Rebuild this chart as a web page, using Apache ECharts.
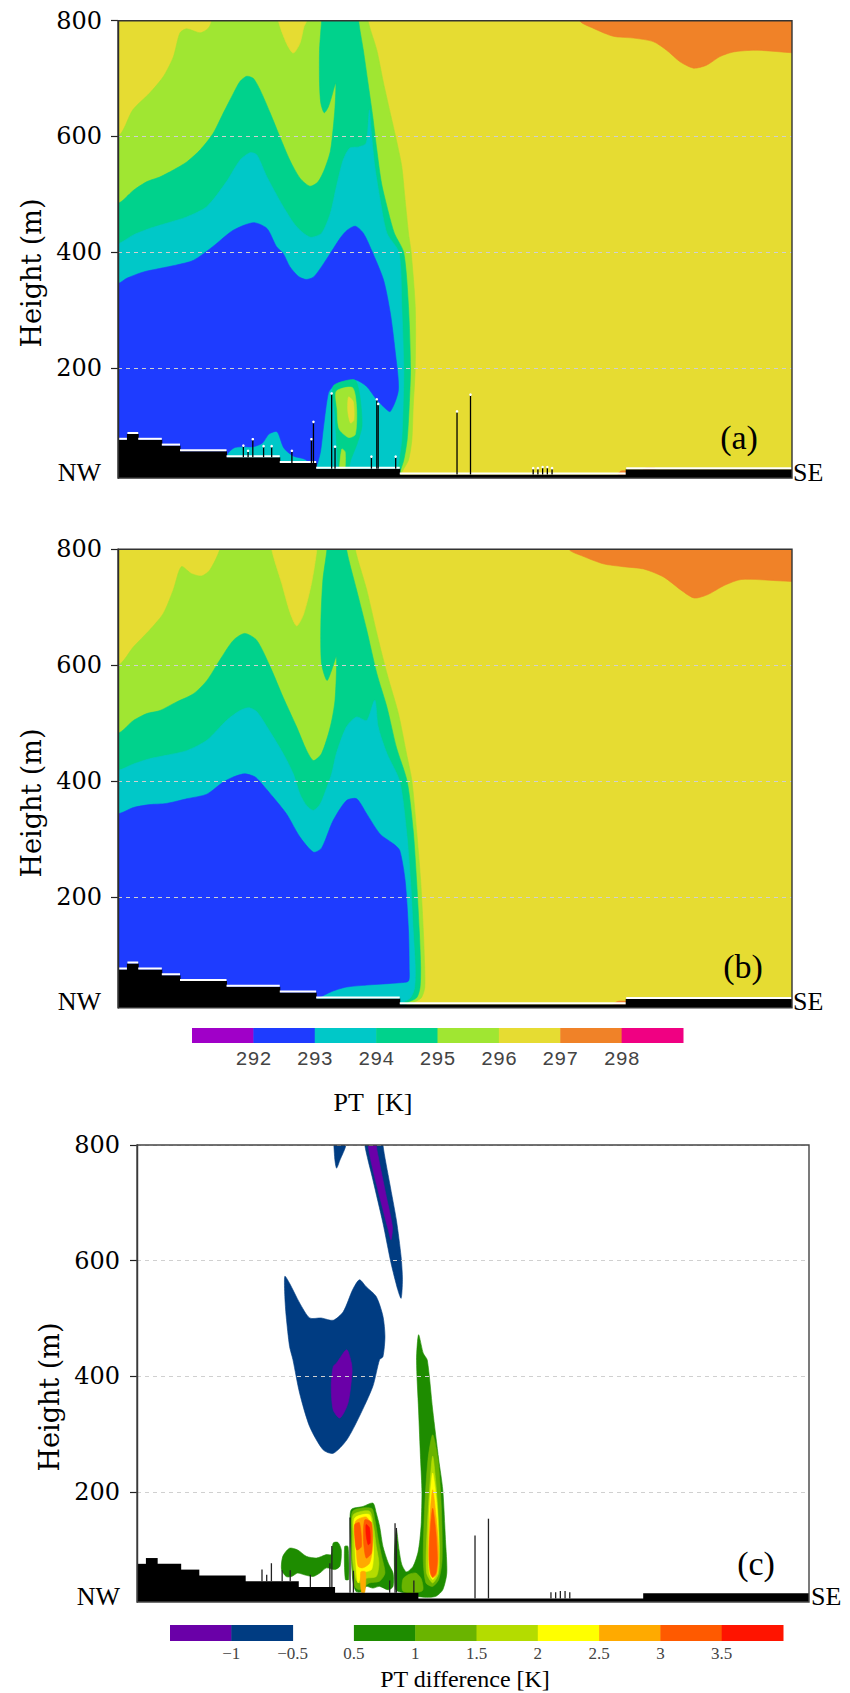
<!DOCTYPE html>
<html><head><meta charset="utf-8">
<script src="https://cdn.jsdelivr.net/npm/echarts@6/dist/echarts.min.js"></script>
<style>html,body{margin:0;padding:0;background:#fff}#main{width:850px;height:1693px}</style>
</head><body><div id="main"></div>
<script>
// ================= DATA =================
const heightTicks = [200, 400, 600, 800];
const ptLevels = [292, 293, 294, 295, 296, 297, 298];
const diffTickLabels = ['\u22121', '\u22120.5', '0.5', '1', '1.5', '2', '2.5', '3', '3.5'];

// terrain steps: x breaks (% of section) and step-top heights (m)
const terrX = [0, 1.4, 3.0, 6.5, 9.2, 16.1, 24.0, 29.4, 41.8, 75.4, 100];
const terrH = [76, 86, 76, 66, 56, 46, 36, 26, 16, 25];
// thin vertical obstacles: [x, top height]
const spikes = [[18.6,66],[19.3,57],[20.0,77],[21.6,65],[22.8,65],[25.8,57],[28.7,77],[29.0,107],[31.7,156],[32.2,64],[37.6,47],[38.4,146],[38.6,138],[41.2,47],[50.3,125],[52.3,154],[61.6,27],[62.3,27],[63.0,29],[63.7,29],[64.4,27]];

const fullDomain = [[-5,0],[105,0],[105,850],[-5,850]];

// ---- panel (a): PT contour regions [x, height] ----
const aOrange = [[68.5,830],[68.5,800],[70.5,787],[73.5,773],[76.5,770],[79.4,764],[81.4,749],[83.4,729],[85.4,718],[87.3,723],[89.3,738],[91.3,746],[94.3,749],[105,749],[105,830]];
const aOrangeBit1 = [[74.2,16],[74.6,22],[75.4,22],[75.4,16]];
const aOrangeBit2 = [[77.9,25],[78.4,27.5],[79.6,27.5],[79.8,25]];
const aLG = [[-5,600],[0,600],[2.2,646],[4.7,675],[6.7,703],[8.2,737],[9.2,779],[10.2,786],[12.2,779],[13.4,787],[13.9,800],[14,830],[37.1,830],[37.1,800],[38.4,749],[39.4,692],[40.4,640],[41.3,594],[42.1,548],[42.6,490],[43.1,433],[43.5,399],[44.1,306],[44.1,200],[43.8,133],[43.6,76],[43.1,41],[42.3,24],[41.8,12],[41.8,0],[-5,0]];
const aNotch = [[23.8,830],[23.8,800],[25.0,761],[26.0,744],[27.0,761],[27.6,790],[28.0,800],[28.0,830]];
const aGreen = [[-5,484],[0,484.5],[2.3,507],[4.3,522],[6.2,530],[8.2,542],[10.2,556],[12.2,577],[14.1,605],[15.6,640],[17.1,674],[18.1,695],[19.1,704],[20.1,700],[21.1,680],[22.6,640],[24.0,600],[25.5,559],[27.0,528],[28.5,514],[29.7,522],[30.7,545],[31.5,574],[31.9,611],[32.2,651],[32.3,692],[31.7,669],[31.2,651],[30.6,641],[30.1,657],[29.9,692],[29.9,749],[30.1,784],[30.2,800],[30.2,830],[35.7,830],[35.7,800],[36.4,749],[37.1,692],[37.8,634],[38.4,577],[39.1,519],[40.1,470],[41.0,433],[42.4,399],[43.1,306],[43.4,200],[43.2,133],[42.9,76],[42.4,41],[41.8,18],[41.8,0],[-5,0]];
const aCyan = [[-5,415],[0,415],[2.3,430],[4.7,441],[7.2,450],[10.2,461],[13.2,479],[16.1,522],[18.1,559],[19.6,572],[20.6,568],[22.1,530],[24.5,479],[26.5,444],[28.5,426],[30.2,433],[31.5,467],[32.4,513],[33.4,559],[34.4,580],[35.7,582],[36.8,588],[37.1,617],[37.3,646],[37.6,605],[38.1,548],[38.9,490],[39.9,433],[41.7,399],[42.1,306],[42.4,200],[42.3,133],[42.1,76],[41.7,41],[41.3,18],[41.3,0],[-5,0]];
const aBlue = [[-5,346],[0,346],[1.3,355],[3.8,366],[6.2,372],[8.7,378],[11.2,386],[14.1,410],[17.1,438],[20.1,451],[22.1,441],[23.5,410],[24.5,398],[25.5,375],[26.8,358],[27.9,353],[29.0,357],[30.2,375],[31.5,398],[33.0,425],[34.0,438],[35.2,445],[36.4,433],[37.6,404],[39.4,352],[40.4,295],[41.1,231],[41.6,162],[40.4,125],[39.4,133],[38.4,145],[36.9,168],[35.4,179],[33.9,176],[31.9,168],[31.2,156],[30.5,99],[30.0,53],[29.2,26],[27.8,42],[26,48],[24.6,62],[23.6,90],[22.4,86],[21.4,70],[20,64],[18.4,64],[17.2,62],[16.2,50],[16.1,0],[-5,0]];
const aBlobGreen = [[31.9,168],[33.4,177],[35.2,179],[35.9,150],[36.2,100],[35.5,70],[34.5,40],[34.0,18],[32.9,18],[32.5,60],[32.2,120]];
const aBlobLG = [[32.4,160],[34.8,166],[35.4,130],[35.2,85],[34.2,80],[32.8,95],[32.5,130]];
const aBlobLG2 = [[32.9,20],[33.2,60],[33.7,55],[33.6,20]];
const aBlobYellow = [[34.2,150],[34.9,142],[35.0,110],[34.5,105],[34.1,125]];

// ---- panel (b) ----
const bOrange = [[66.9,830],[66.9,800],[69,788],[72,775],[75,770],[78,766],[81,752],[83.5,730],[85.5,716],[87.5,722],[90,738],[92.5,748],[105,750],[105,830]];
const bOrangeBit = [[73.5,16],[74.2,21],[75.4,21],[75.4,16]];
const bLG = [[-5,600],[0,600],[2.3,632],[4.7,661],[6.7,689],[8.2,730],[9.4,770],[10.9,758],[12.4,754],[13.6,764],[15.1,800],[15.1,830],[35.2,830],[35.2,800],[36.9,730],[38.4,655],[39.9,586],[41.6,517],[42.8,448],[43.6,401],[44.3,315],[44.9,229],[45.3,142],[45.5,79],[45.5,44],[45.0,27],[43.8,17],[43.8,0],[-5,0]];
const bNotch = [[22.8,830],[22.8,800],[24.3,741],[25.5,692],[26.5,668],[27.5,687],[28.7,741],[29.5,800],[29.5,830]];
const bGreen = [[-5,483],[0,483],[2.3,505],[4.3,517],[6.2,522],[8.7,537],[11.2,551],[13.2,574],[15.1,609],[17.1,643],[18.8,655],[20.6,643],[22.6,597],[24.5,545],[26.5,494],[28,453],[29,436],[30.2,448],[31.5,494],[32.2,540],[32.4,615],[31.7,592],[31.0,574],[30.2,603],[30.1,672],[30.4,747],[31,800],[31,830],[33.9,830],[33.9,800],[35.4,730],[36.9,661],[38.4,586],[39.9,528],[41.3,459],[42.9,400],[43.8,315],[44.3,229],[44.7,142],[44.9,79],[44.8,44],[44.3,27],[42.8,17],[42.8,0],[-5,0]];
const bCyan = [[-5,419],[0,419],[2.3,430],[4.7,439],[7.2,445],[10.2,453],[13.2,471],[16.1,505],[18.1,522],[19.4,527],[20.6,520],[22.1,494],[24.5,448],[26,413],[27,378],[28,358],[29,350],[30,361],[31,390],[31.7,413],[32.4,448],[33.9,494],[35.4,511],[36.9,505],[38.1,540],[38.6,494],[39.9,448],[41.8,400],[42.8,315],[43.4,229],[43.8,142],[44.1,79],[44.0,44],[43.4,27],[42.1,17],[42.1,0],[-5,0]];
const bBlue = [[-5,344],[0,344],[2.3,355],[4.7,360],[7.2,362],[10.2,370],[13.2,378],[15.5,398],[17.2,408],[18.8,413],[20.3,408],[21.1,399],[23,373],[25,344],[27,304],[29,278],[30.2,285],[31.9,332],[33.9,367],[35.4,370],[36.9,344],[38.9,309],[40.9,292],[41.8,281],[42.6,229],[43.1,142],[43.2,79],[43.1,56],[41.8,53],[36.9,49],[33.9,45.6],[31.9,38.8],[30,28.4],[29.4,26],[29.4,0],[-5,0]];

// ---- panel (c): PT difference regions ----
const cNavy1 = [[29.4,830],[29.4,780],[29.7,760],[30.2,774],[31.1,800],[31.1,830]];
const cNavy2 = [[33.9,830],[33.9,800],[35.1,740],[36.6,665],[37.8,596],[38.8,550],[39.3,535],[39.5,567],[39.3,607],[38.6,670],[37.6,734],[36.6,800],[36.6,830]];
const cPurple2 = [[34.4,830],[34.4,800],[34.9,768],[36.1,711],[37.4,653],[37.8,636],[38,659],[37.1,711],[36.1,768],[35.6,800],[35.6,830]];
const cNavy3 = [[22,573],[22.7,561],[24.2,527],[25.7,501],[27.4,501],[29.2,497],[30.7,512],[32.1,550],[33.1,567],[34.1,555],[35.6,538],[36.6,504],[36.9,469],[36.6,434],[36.1,429],[35.1,383],[33.1,331],[31.2,290],[29.2,267],[27.7,273],[25.7,313],[24.2,371],[23.2,429],[22.7,452],[22.2,504],[22,538]];
const cPurple3 = [[31.2,446],[31.9,423],[32,406],[31.4,354],[30.2,328],[29.2,342],[28.9,383],[29.2,417],[29.7,423]];
const cLeftGreen = [[21.7,89],[22.7,103],[23.9,100],[25.2,89],[26.7,86],[28.2,92],[28.9,92],[29.2,112],[29.9,113],[30.4,100],[30.2,72],[29.4,66],[28.2,69],[27.2,60],[26.2,54],[24.9,57],[23.9,60],[23,54],[22.2,54],[21.5,66]];
const cStreak = [[30.9,106],[31.4,106],[31.5,49],[31,49]];
const cBlob1 = [[31.9,170],[33.6,175],[35.1,181],[35.6,164],[36.1,141],[36.6,106],[37.4,77],[38.1,60],[38.1,37],[37.4,31],[36.1,37],[35.1,34],[34.1,37],[33.6,28],[32.6,28],[32.1,49],[31.9,89],[31.7,147]];
const cBlob2 = [[32.1,167],[34.9,172],[35.4,152],[35.9,118],[36.4,89],[36.9,60],[36.1,46],[34.6,43],[33.9,37],[33.1,31],[32.4,37],[32,72],[31.9,118]];
const cBlob3 = [[32.2,161],[34.6,167],[35.2,141],[35.6,106],[36,77],[35.6,54],[34.1,51],[33.1,43],[32.6,49],[32.1,83],[32.1,129]];
const cBlob4 = [[32.4,155],[34.6,161],[35,129],[35.2,95],[34.9,66],[33.6,60],[32.9,43],[32.6,72],[32.4,118]];
const cBlob5 = [[32.5,149],[34.1,157],[34.9,141],[35,100],[34.6,77],[33.6,69],[32.9,72],[32.6,106]];
const cBlobCol = [[33.3,62],[34.0,62],[33.9,27],[33.4,27]];
const cBlob6a = [[32.4,144],[33.1,147],[33.4,106],[32.7,100],[32.4,123]];
const cBlob6b = [[33.9,152],[34.9,147],[34.9,95],[34.1,86],[33.7,118]];
const cBlob7 = [[34.1,144],[34.6,138],[34.7,112],[34.4,109],[34.1,126]];
const cPlume1 = [[41.9,472],[42.6,440],[43.2,428],[44.0,342],[44.9,256],[45.5,204],[45.9,118],[46.1,60],[45.5,31],[44.5,20],[43.1,18],[41.6,20],[40.1,25],[38.6,30],[38.4,40],[38.3,90],[38.6,135],[39.0,100],[39.4,75],[40.1,62],[41.1,72],[41.8,95],[42.1,118],[42.3,147],[42.4,200],[42.2,256],[41.9,342],[41.6,428]];
const cPlumeValley = [[39.6,50],[40.5,58],[41.5,60],[42.3,50],[42.5,30],[40.5,25],[39.5,30]];
const cPlume2 = [[44,299],[44.8,256],[45.3,170],[45.4,83],[44.9,49],[44,37],[43,43],[42.6,83],[42.8,170],[43.3,256]];
const cPlume3 = [[44,262],[44.6,198],[45,112],[44.9,60],[44,43],[43.1,60],[43.1,112],[43.5,198]];
const cPlume4 = [[44,233],[44.6,181],[44.9,106],[44.7,60],[44,49],[43.5,60],[43.4,106],[43.6,187]];
const cPlume5 = [[44,204],[44.5,158],[44.9,95],[44.6,57],[44,52],[43.6,60],[43.4,95],[43.6,158]];
const cPlume6 = [[44,172],[44.5,129],[44.7,83],[44.5,60],[44,53],[43.7,60],[43.5,83],[43.6,129]];

// ================= STYLE / BUILD =================
const ptColors = ['#a000c8','#1e3cff','#00c8c8','#00d28c','#a0e632','#e6dc32','#f08228','#f00082'];
const diffColors = ['#6a00a8','#003c82',null,'#1e8c00','#6ab400','#b4dc00','#ffff00','#ffaa00','#ff5a00','#ff1400'];
const P = {blue:ptColors[1], cyan:ptColors[2], green:ptColors[3], lg:ptColors[4], yel:ptColors[5], org:ptColors[6]};
const D = {pur:diffColors[0], navy:diffColors[1], g1:diffColors[3], g2:diffColors[4], g3:diffColors[5], y:diffColors[6], o:diffColors[7], do:diffColors[8], r:diffColors[9]};

const layersA = [[fullDomain,P.yel],[aOrange,P.org],[aOrangeBit1,P.org],[aOrangeBit2,P.org],[aLG,P.lg],[aNotch,P.yel],[aGreen,P.green],[aCyan,P.cyan],[aBlue,P.blue],[aBlobGreen,P.green],[aBlobLG,P.lg],[aBlobLG2,P.lg],[aBlobYellow,P.yel]];
const layersB = [[fullDomain,P.yel],[bOrange,P.org],[bOrangeBit,P.org],[bLG,P.lg],[bNotch,P.yel],[bGreen,P.green],[bCyan,P.cyan],[bBlue,P.blue]];
const layersC = [[cNavy1,D.navy],[cNavy2,D.navy],[cPurple2,D.pur],[cNavy3,D.navy],[cPurple3,D.pur],[cLeftGreen,D.g1],[cStreak,D.g1],
  [cBlob1,D.g1],[cBlob2,D.g2],[cBlob3,D.g3],[cBlob4,D.y],[cBlob5,D.o],[cBlobCol,D.o],[cBlob6a,D.do],[cBlob6b,D.do],[cBlob7,D.r],
  [cPlume1,D.g1],[cPlumeValley,D.g2],[cPlume2,D.g2],[cPlume3,D.g3],[cPlume4,D.y],[cPlume5,D.o],[cPlume6,D.do]];

function polyLayer(gi, layers) {
  return {
    type: 'custom', xAxisIndex: gi, yAxisIndex: gi, clip: true, silent: true, z: 2,
    data: layers.map((l, i) => [l[0][0][0], l[0][0][1], i]),
    renderItem: function (params, api) {
      const l = layers[params.dataIndex];
      return { type: 'polygon', shape: { points: l[0].map(p => api.coord(p)), smooth: 0.25 },
        style: { fill: l[1], stroke: l[1], lineWidth: 0.6 } };
    }
  };
}
function terrainAt(x) {
  for (let i = 0; i < terrH.length; i++) if (x >= terrX[i] && x < terrX[i + 1]) return terrH[i];
  return 10;
}
function terrainSeries(gi, whiteTop) {
  return {
    type: 'custom', xAxisIndex: gi, yAxisIndex: gi, clip: true, silent: true, z: 3,
    data: terrH.map((h, i) => [terrX[i], h, terrX[i + 1]]),
    renderItem: function (params, api) {
      const p0 = api.coord([api.value(0), api.value(1)]);
      const p1 = api.coord([api.value(2), 10]);
      const ch = [{ type: 'rect', shape: { x: p0[0] - 0.5, y: p0[1], width: p1[0] - p0[0] + 1, height: p1[1] - p0[1] + 3 }, style: { fill: '#000' } }];
      if (whiteTop) ch.push({ type: 'line', shape: { x1: p0[0], y1: p0[1] - 1, x2: p1[0], y2: p0[1] - 1 }, style: { stroke: '#fff', lineWidth: 2 } });
      return { type: 'group', children: ch };
    }
  };
}
function spikeSeries(gi, dots, color) {
  return {
    type: 'custom', xAxisIndex: gi, yAxisIndex: gi, clip: true, silent: true, z: 4,
    data: spikes,
    renderItem: function (params, api) {
      const x = api.value(0), top = api.value(1);
      const pb = api.coord([x, terrainAt(x)]);
      const pt = api.coord([x, top]);
      const ch = [{ type: 'line', shape: { x1: pb[0], y1: pb[1], x2: pt[0], y2: pt[1] }, style: { stroke: color, lineWidth: 1.3 } }];
      if (dots) ch.push({ type: 'circle', shape: { cx: pt[0], cy: pt[1], r: 1.3 }, style: { fill: '#fff' } });
      return { type: 'group', children: ch };
    }
  };
}
function frameSeries(gi, color) {
  return {
    type: 'custom', xAxisIndex: gi, yAxisIndex: gi, silent: true, z: 12,
    data: [[0, 10, 100, 800]],
    renderItem: function (params, api) {
      const a = api.coord([api.value(0), api.value(3)]);
      const b = api.coord([api.value(2), api.value(1)]);
      return { type: 'rect', shape: { x: a[0], y: a[1], width: b[0] - a[0], height: b[1] - a[1] }, style: { fill: 'none', stroke: color, lineWidth: 1.4 } };
    }
  };
}
function boxSeries(gi, colors, x0) {
  return {
    type: 'custom', xAxisIndex: gi, yAxisIndex: gi, silent: true, z: 2,
    data: colors.map((c, i) => [x0 + i, 0, x0 + i + 1, 1]),
    renderItem: function (params, api) {
      const c = colors[params.dataIndex];
      if (!c) return null;
      const a = api.coord([api.value(0), api.value(3)]);
      const b = api.coord([api.value(2), api.value(1)]);
      return { type: 'rect', shape: { x: a[0], y: a[1], width: b[0] - a[0] + 0.5, height: b[1] - a[1] }, style: { fill: c } };
    }
  };
}

const tickFont = { fontFamily: 'DejaVu Serif', fontSize: 24, color: '#000' };
function heightAxis(gi, margin) {
  return {
    type: 'value', gridIndex: gi, min: 10, max: 800, z: 10,
    axisLine: { show: true, lineStyle: { color: '#222', width: 1.4 } },
    axisTick: { show: true, inside: false, length: 7, customValues: heightTicks, lineStyle: { color: '#222', width: 1.2 } },
    axisLabel: Object.assign({ customValues: heightTicks, margin: margin }, tickFont),
    splitLine: { show: true, lineStyle: { color: '#d0d0d0', type: [4, 4], width: 1 } }
  };
}
function distAxis(gi) {
  return { type: 'value', gridIndex: gi, min: 0, max: 100, show: false, splitLine: { show: false } };
}

const option = {
  animation: false,
  backgroundColor: '#fff',
  grid: [
    { left: 118, top: 20.7, width: 674, height: 457.3 },
    { left: 118, top: 549.3, width: 674, height: 458.4 },
    { left: 137, top: 1145, width: 672, height: 457 },
    { left: 192, top: 1028, width: 491, height: 15 },
    { left: 170, top: 1625, width: 613, height: 16 }
  ],
  xAxis: [
    distAxis(0), distAxis(1), distAxis(2),
    { type: 'value', gridIndex: 3, min: 291, max: 299, interval: 1,
      axisLine: { show: false }, axisTick: { show: false }, splitLine: { show: false },
      axisLabel: { margin: 6, fontFamily: 'Liberation Mono', fontSize: 20, color: '#444',
        formatter: v => (ptLevels.indexOf(v) >= 0 ? String(v) : '') } },
    { type: 'value', gridIndex: 4, min: 0, max: 10, interval: 1,
      axisLine: { show: false }, axisTick: { show: false }, splitLine: { show: false },
      axisLabel: { margin: 4, fontFamily: 'Liberation Serif', fontSize: 17, color: '#444',
        formatter: v => (v >= 1 && v <= 9 ? diffTickLabels[v - 1] : '') } }
  ],
  yAxis: [
    heightAxis(0, 16), heightAxis(1, 16), heightAxis(2, 17),
    { type: 'value', gridIndex: 3, min: 0, max: 1, show: false },
    { type: 'value', gridIndex: 4, min: 0, max: 1, show: false }
  ],
  series: [
    polyLayer(0, layersA), terrainSeries(0, true), spikeSeries(0, true, '#000'), frameSeries(0, '#333'),
    polyLayer(1, layersB), terrainSeries(1, true), frameSeries(1, '#333'),
    polyLayer(2, layersC), terrainSeries(2, false), spikeSeries(2, false, '#222'), frameSeries(2, '#444'),
    boxSeries(3, ptColors, 291),
    boxSeries(4, diffColors, 0)
  ],
  graphic: [
    { type: 'text', x: 31, y: 273, rotation: Math.PI / 2, style: { text: 'Height (m)', font: '27px "DejaVu Serif"', fill: '#000', align: 'center', verticalAlign: 'middle', textAlign: 'center', textVerticalAlign: 'middle' } },
    { type: 'text', x: 31, y: 803, rotation: Math.PI / 2, style: { text: 'Height (m)', font: '27px "DejaVu Serif"', fill: '#000', align: 'center', verticalAlign: 'middle', textAlign: 'center', textVerticalAlign: 'middle' } },
    { type: 'text', x: 49, y: 1397, rotation: Math.PI / 2, style: { text: 'Height (m)', font: '27px "DejaVu Serif"', fill: '#000', align: 'center', verticalAlign: 'middle', textAlign: 'center', textVerticalAlign: 'middle' } },
    { type: 'text', x: 101, y: 472, style: { text: 'NW', font: '26px "Liberation Serif"', fill: '#000', align: 'right', verticalAlign: 'middle', textAlign: 'right', textVerticalAlign: 'middle' } },
    { type: 'text', x: 793, y: 472, style: { text: 'SE', font: '26px "Liberation Serif"', fill: '#000', align: 'left', verticalAlign: 'middle', textAlign: 'left', textVerticalAlign: 'middle' } },
    { type: 'text', x: 101, y: 1001, style: { text: 'NW', font: '26px "Liberation Serif"', fill: '#000', align: 'right', verticalAlign: 'middle', textAlign: 'right', textVerticalAlign: 'middle' } },
    { type: 'text', x: 793, y: 1001, style: { text: 'SE', font: '26px "Liberation Serif"', fill: '#000', align: 'left', verticalAlign: 'middle', textAlign: 'left', textVerticalAlign: 'middle' } },
    { type: 'text', x: 120, y: 1596, style: { text: 'NW', font: '26px "Liberation Serif"', fill: '#000', align: 'right', verticalAlign: 'middle', textAlign: 'right', textVerticalAlign: 'middle' } },
    { type: 'text', x: 811, y: 1596, style: { text: 'SE', font: '26px "Liberation Serif"', fill: '#000', align: 'left', verticalAlign: 'middle', textAlign: 'left', textVerticalAlign: 'middle' } },
    { type: 'text', x: 739, y: 437, z: 20, style: { text: '(a)', font: '34px "Liberation Serif"', fill: '#000', align: 'center', verticalAlign: 'middle', textAlign: 'center', textVerticalAlign: 'middle' } },
    { type: 'text', x: 743, y: 966, z: 20, style: { text: '(b)', font: '34px "Liberation Serif"', fill: '#000', align: 'center', verticalAlign: 'middle', textAlign: 'center', textVerticalAlign: 'middle' } },
    { type: 'text', x: 756, y: 1563, z: 20, style: { text: '(c)', font: '34px "Liberation Serif"', fill: '#000', align: 'center', verticalAlign: 'middle', textAlign: 'center', textVerticalAlign: 'middle' } },
    { type: 'text', x: 373, y: 1102, style: { text: 'PT  [K]', font: '26px "Liberation Serif"', fill: '#000', align: 'center', verticalAlign: 'middle', textAlign: 'center', textVerticalAlign: 'middle' } },
    { type: 'text', x: 465, y: 1679, style: { text: 'PT difference [K]', font: '24px "Liberation Serif"', fill: '#000', align: 'center', verticalAlign: 'middle', textAlign: 'center', textVerticalAlign: 'middle' } }
  ]
};

const chart = echarts.init(document.getElementById('main'), null, { renderer: 'svg', width: 850, height: 1693 });
chart.setOption(option);
</script>
</body></html>
